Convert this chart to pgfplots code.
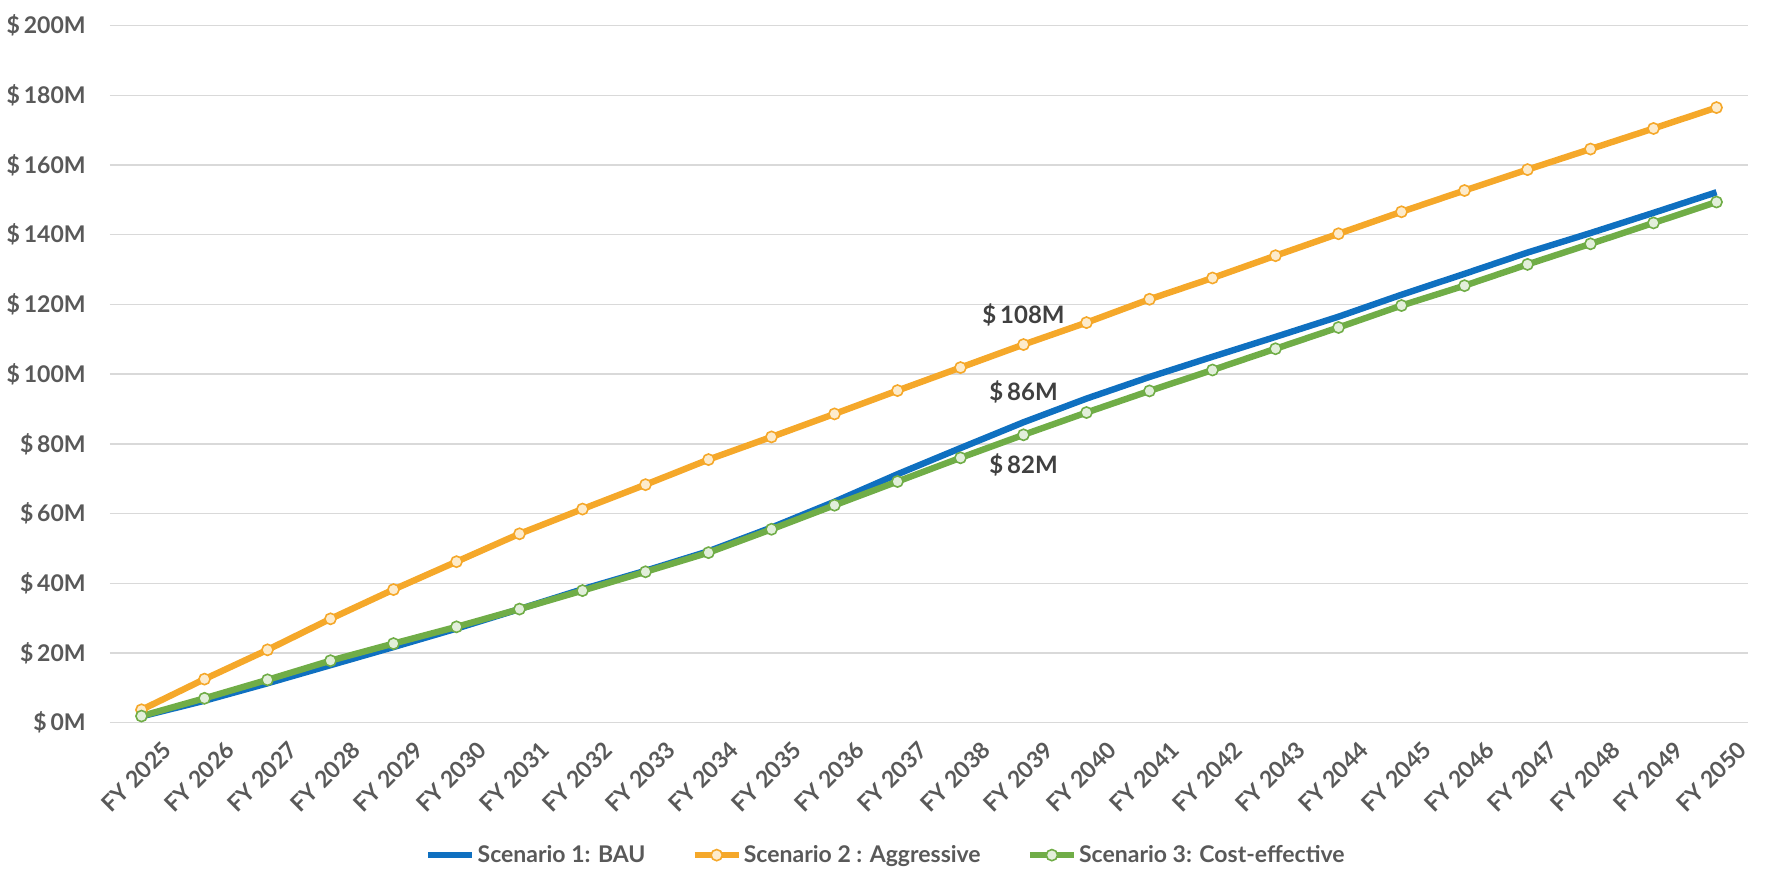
\documentclass[border=0pt]{standalone}
\usepackage{pgfplots}
\pgfplotsset{compat=1.18}
\usepackage{pgfplotstable}
\usepackage{fontspec}
\setmainfont{Lato}
\definecolor{txt}{HTML}{595959}
\definecolor{lbl}{HTML}{404040}
\definecolor{grd}{HTML}{D9D9D9}
\definecolor{sblue}{HTML}{0F70C0}
\definecolor{sorange}{HTML}{F5A82A}
\definecolor{sgreen}{HTML}{70AD47}
\definecolor{forange}{HTML}{FDEBCB}
\definecolor{fgreen}{HTML}{E2EFDA}

\pgfplotstableread{
x s1 s2 s3
0 1.8 3.7 1.9
1 6.3 12.5 7.0
2 11.3 20.9 12.3
3 16.5 29.8 17.8
4 21.7 38.2 22.7
5 27.0 46.2 27.5
6 32.6 54.2 32.6
7 38.3 61.3 37.9
8 43.6 68.3 43.3
9 49.2 75.5 48.8
10 56.0 82.0 55.5
11 63.4 88.6 62.4
12 71.3 95.3 69.2
13 78.8 101.9 76.0
14 86.2 108.5 82.6
15 93.0 114.8 89.0
16 99.2 121.5 95.2
17 105.0 127.6 101.2
18 110.7 134.0 107.3
19 116.5 140.3 113.4
20 122.8 146.6 119.7
21 128.8 152.7 125.4
22 134.9 158.7 131.5
23 140.5 164.6 137.4
24 146.3 170.5 143.4
25 152.2 176.5 149.4
}\datatable

\begin{document}
\begin{tikzpicture}
\begin{axis}[
  width=819pt, height=348.5pt, scale only axis,
  xmin=-0.5, xmax=25.5, ymin=0, ymax=200,
  axis line style={draw=none},
  ymajorgrids, grid style={grd, line width=0.7pt},
  xtick={0,...,25},
  xticklabels={FY 2025,FY 2026,FY 2027,FY 2028,FY 2029,FY 2030,FY 2031,FY 2032,FY 2033,FY 2034,FY 2035,FY 2036,FY 2037,FY 2038,FY 2039,FY 2040,FY 2041,FY 2042,FY 2043,FY 2044,FY 2045,FY 2046,FY 2047,FY 2048,FY 2049,FY 2050},
  ytick={0,20,...,200},
  yticklabels={\$\,0M,\$\,20M,\$\,40M,\$\,60M,\$\,80M,\$\,100M,\$\,120M,\$\,140M,\$\,160M,\$\,180M,\$\,200M},
  major tick length=0pt,
  tick style={draw=none},
  tick label style={font=\fontsize{11.5}{13}\selectfont\bfseries, text=txt},
  yticklabel style={anchor=east, inner sep=0pt, xshift=-12pt},
  xticklabel style={rotate=45, anchor=north east, inner sep=0pt, yshift=-13pt, xshift=1pt},
  clip=false,
  legend columns=3,
  legend style={at={(rel axis cs:0.4737,-0.19)}, anchor=center, draw=none, fill=none,
    font=\fontsize{11.5}{13}\selectfont\bfseries, text=txt,
    /tikz/every even column/.append style={column sep=22pt},
    nodes={inner sep=1pt}},
  legend image code/.code={\draw[mark repeat=2, mark phase=2] plot coordinates {(0pt,0pt) (11pt,0pt) (22pt,0pt)};},
]
\addplot[sblue, line width=3.2pt, mark=none] table[x=x, y=s1] {\datatable};
\addlegendentry{Scenario 1: BAU}
\addplot[sorange, line width=3.2pt, mark=*, mark size=2.8pt, mark options={fill=forange, draw=sorange, line width=0.8pt}] table[x=x, y=s2] {\datatable};
\addlegendentry{Scenario 2 : Aggressive}
\addplot[sgreen, line width=3.2pt, mark=*, mark size=2.8pt, mark options={fill=fgreen, draw=sgreen, line width=0.8pt}] table[x=x, y=s3] {\datatable};
\addlegendentry{Scenario 3: Cost-effective}
\node[font=\fontsize{12}{14}\selectfont\bfseries, text=lbl] at ([yshift=15pt]axis cs:14,108.5) {\$\,108M};
\node[font=\fontsize{12}{14}\selectfont\bfseries, text=lbl] at ([yshift=15pt]axis cs:14,86.2) {\$\,86M};
\node[font=\fontsize{12}{14}\selectfont\bfseries, text=lbl] at ([yshift=-15pt]axis cs:14,82.6) {\$\,82M};
\coordinate (sw) at (rel axis cs:0,0);
\coordinate (ne) at (rel axis cs:1,1);
\end{axis}
\pgfresetboundingbox
\path[use as bounding box] ([xshift=-55pt,yshift=-81.6pt]sw) rectangle ([xshift=12pt,yshift=12.85pt]ne);
\end{tikzpicture}
\end{document}
